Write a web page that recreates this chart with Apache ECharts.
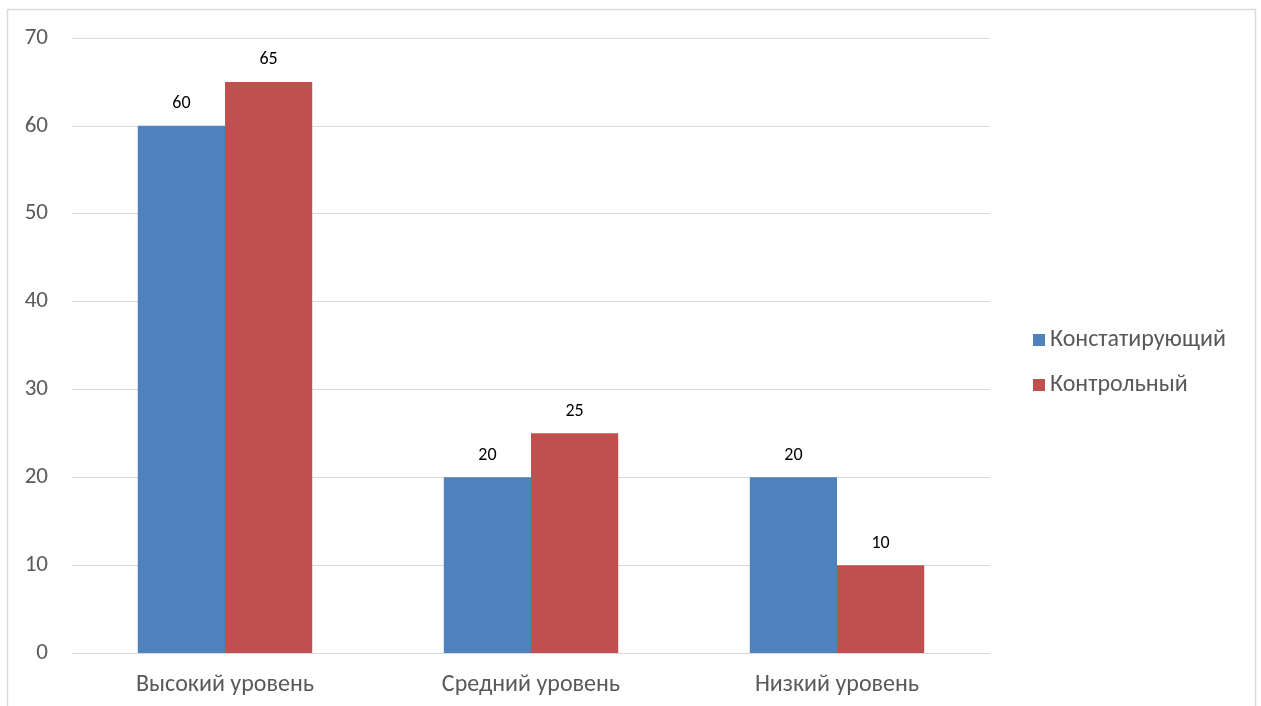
<!DOCTYPE html>
<html><head><meta charset="utf-8">
<script src="https://cdn.jsdelivr.net/npm/echarts@6/dist/echarts.min.js"></script>
<style>html,body{margin:0;padding:0;background:#fff}#c{width:1261px;height:706px}</style>
</head><body><div id="c"></div>
<script>
const categories = ['Высокий уровень', 'Средний уровень', 'Низкий уровень'];
const seriesNames = ['Констатирующий', 'Контрольный'];
const valuesA = [60, 20, 20];
const valuesB = [65, 25, 10];
const yTicks = [0, 10, 20, 30, 40, 50, 60, 70];

const chart = echarts.init(document.getElementById('c'), null, {renderer: 'canvas'});
const font = 'Calibri, Carlito, "Liberation Sans", "Open Sans", sans-serif';
chart.setOption({
  animation: false,
  graphic: [{type: 'rect', shape: {x: 7.5, y: 9.5, width: 1248, height: 760}, style: {fill: 'none', stroke: '#d9d9d9', lineWidth: 1.5}, z: -1}],
  grid: {left: 72, right: 271, top: 38, bottom: 53, containLabel: false},
  legend: {
    orient: 'vertical', left: 1028, top: 323, itemWidth: 12, itemHeight: 12, itemGap: 21,
    icon: 'rect',
    textStyle: {fontFamily: font, fontSize: 24, color: '#595959', padding: [0, 0, 0, 0]},
    data: seriesNames
  },
  xAxis: {
    type: 'category', data: categories,
    axisLine: {lineStyle: {color: '#d9d9d9', width: 1}},
    axisTick: {show: false},
    axisLabel: {fontFamily: font, fontSize: 24, color: '#595959', margin: 20}
  },
  yAxis: {
    type: 'value', min: yTicks[0], max: yTicks[yTicks.length - 1], interval: 10,
    axisLine: {show: false}, axisTick: {show: false},
    splitLine: {lineStyle: {color: '#d9d9d9', width: 1}},
    axisLabel: {fontFamily: font, fontSize: 23, color: '#595959', margin: 24}
  },
  series: [
    {name: seriesNames[0], type: 'bar', data: valuesA, barWidth: '28.5%', barGap: '0%',
     itemStyle: {color: '#4f81bd'},
     label: {show: true, position: 'top', distance: 13, fontFamily: font, fontSize: 18, color: '#000'}},
    {name: seriesNames[1], type: 'bar', data: valuesB, barWidth: '28.5%', barGap: '0%',
     itemStyle: {color: '#c0504d'},
     label: {show: true, position: 'top', distance: 13, fontFamily: font, fontSize: 18, color: '#000'}}
  ]
});
</script></body></html>
